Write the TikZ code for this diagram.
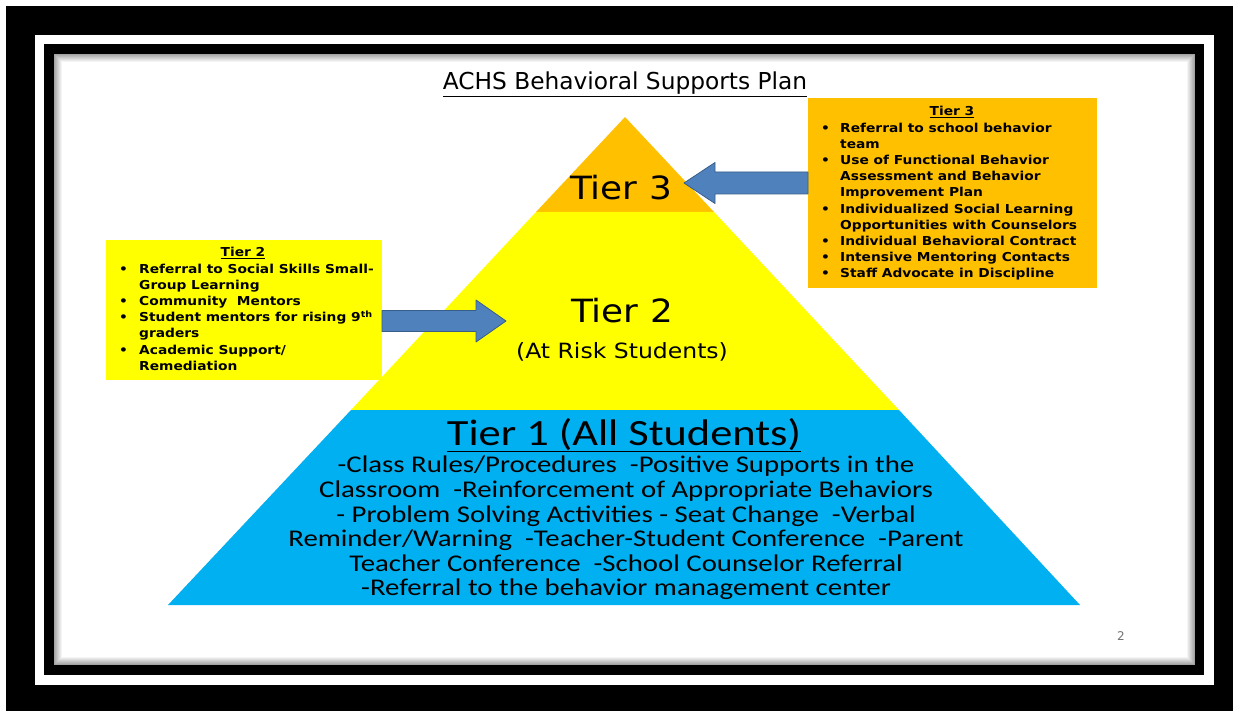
\documentclass[tikz,border=0pt]{standalone}
\usepackage{fontspec}
\setmainfont{Carlito}
\newfontfamily\dvsans{DejaVu Sans}
\newfontfamily\dvwide[FakeStretch=1.12]{DejaVu Sans}
\newfontfamily\calwide[FakeStretch=1.2]{Carlito}
\usetikzlibrary{calc}

\definecolor{tierorange}{HTML}{FFC000}
\definecolor{tieryellow}{HTML}{FFFF00}
\definecolor{tierblue}{HTML}{00B0F0}
\definecolor{arrowfill}{HTML}{4F81BD}
\definecolor{arrowline}{HTML}{385D8A}

\begin{document}
\begin{tikzpicture}[x=1pt,y=-1pt,
    tierlabel/.style={font=\dvwide\fontsize{32}{36}\selectfont,inner sep=0pt},
    boxhead/.style={font=\dvwide\bfseries\fontsize{12.3}{16.2}\selectfont,inner sep=0pt,anchor=base},
    boxlist/.style={font=\dvwide\bfseries\fontsize{12.3}{16.2}\selectfont,inner sep=0pt,anchor=north west,align=left},
    blockarrow/.style={fill=arrowfill,draw=arrowline,line width=0.8pt,line join=round}]
  % page and frame
  \fill[white] (0,0) rectangle (1233,711);
  \fill[black] (6,6) rectangle (1233,711);
  \fill[white] (35,35) rectangle (1214,685);
  \fill[black] (44,44) rectangle (1204,675);
  \fill[white] (54,54) rectangle (1195,665);
  \foreach[evaluate={\g=int(36-4.5*\i)}] \i in {0,...,7} {
    \draw[black!\g,line width=1pt] (54.5+\i,54.5+\i) rectangle (1194.5-\i,664.5-\i);
  }

  \node[font=\dvsans\fontsize{23.3}{26}\selectfont,inner sep=0pt,anchor=base] (title) at (625,90) {\underline{ACHS Behavioral Supports Plan}};

  % pyramid
  \fill[tierorange] (625,117) -- (714,212) -- (536,212) -- cycle;
  \fill[tieryellow] (536,212) -- (714,212) -- (899,410) -- (351,410) -- cycle;
  \fill[tierblue] (351,410) -- (899,410) -- (1080,605) -- (168,605) -- cycle;

  \node[tierlabel] (t3) at (621,188) {Tier 3};
  \node[tierlabel] (t2) at (622,311) {Tier 2};
  \node[font=\dvwide\fontsize{21}{24}\selectfont,inner sep=0pt] (t2sub) at (622,352) {(At Risk Students)};
  \node[font=\calwide\fontsize{37}{40}\selectfont,inner sep=0pt,anchor=base] (t1) at (624,445) {\underline{Tier 1 (All Students)}};
  \node[font=\calwide\fontsize{24}{24.6}\selectfont,inner sep=0pt,align=center,anchor=north] (t1list) at (626,456) {%
    -Class Rules/Procedures \ -Positive Supports in the\\
    Classroom \ -Reinforcement of Appropriate Behaviors\\
    - Problem Solving Activities - Seat Change \ -Verbal\\
    Reminder/Warning \ -Teacher-Student Conference \ -Parent\\
    Teacher Conference \ -School Counselor Referral\\
    -Referral to the behavior management center};

  % side boxes
  \fill[tierorange] (808,98) rectangle (1097,288);
  \coordinate (t3box) at (808,193);
  \node[boxhead] (t3head) at (952,116) {\underline{Tier 3}};
  \node[boxlist] (t3list) at (821,120.6) {%
    \begin{tabular}{@{}p{19pt}@{}l@{}}
      \textbullet & Referral to school behavior\\
                  & team\\
      \textbullet & Use of Functional Behavior\\
                  & Assessment and Behavior\\
                  & Improvement Plan\\
      \textbullet & Individualized Social Learning\\
                  & Opportunities with Counselors\\
      \textbullet & Individual Behavioral Contract\\
      \textbullet & Intensive Mentoring Contacts\\
      \textbullet & Staff Advocate in Discipline
    \end{tabular}};

  \fill[tieryellow] (106,240) rectangle (382,380);
  \coordinate (t2box) at (382,310);
  \node[boxhead] (t2head) at (243,257) {\underline{Tier 2}};
  \node[boxlist] (t2list) at (119,261.6) {%
    \begin{tabular}{@{}p{20pt}@{}l@{}}
      \textbullet & Referral to Social Skills Small-\\
                  & Group Learning\\
      \textbullet & Community \ Mentors\\
      \textbullet & Student mentors for rising 9\textsuperscript{th}\\
                  & graders\\
      \textbullet & Academic Support/\\
                  & Remediation
    \end{tabular}};

  % arrows into the pyramid
  \coordinate (t3tip) at (684,183);
  \coordinate (t3tail) at (t3box |- t3tip);
  \draw[blockarrow] let \p1=(t3tail), \p2=(t3tip) in
    (\x1,\y1+11pt) -- (\x2+31pt,\y1+11pt) -- (\x2+31pt,\y1+20.5pt) -- (\p2)
    -- (\x2+31pt,\y1-20.5pt) -- (\x2+31pt,\y1-11pt) -- (\x1,\y1-11pt) -- cycle;
  \coordinate (t2tip) at (506,321);
  \coordinate (t2tail) at (t2box |- t2tip);
  \draw[blockarrow] let \p1=(t2tail), \p2=(t2tip) in
    (\x1,\y1+10.5pt) -- (\x2-30pt,\y1+10.5pt) -- (\x2-30pt,\y1+21pt) -- (\p2)
    -- (\x2-30pt,\y1-21pt) -- (\x2-30pt,\y1-10.5pt) -- (\x1,\y1-10.5pt) -- cycle;

  \node[font=\dvsans\fontsize{12}{14}\selectfont,text=black!55,inner sep=0pt] (pnum) at (1121,636) {2};
\end{tikzpicture}
\end{document}
